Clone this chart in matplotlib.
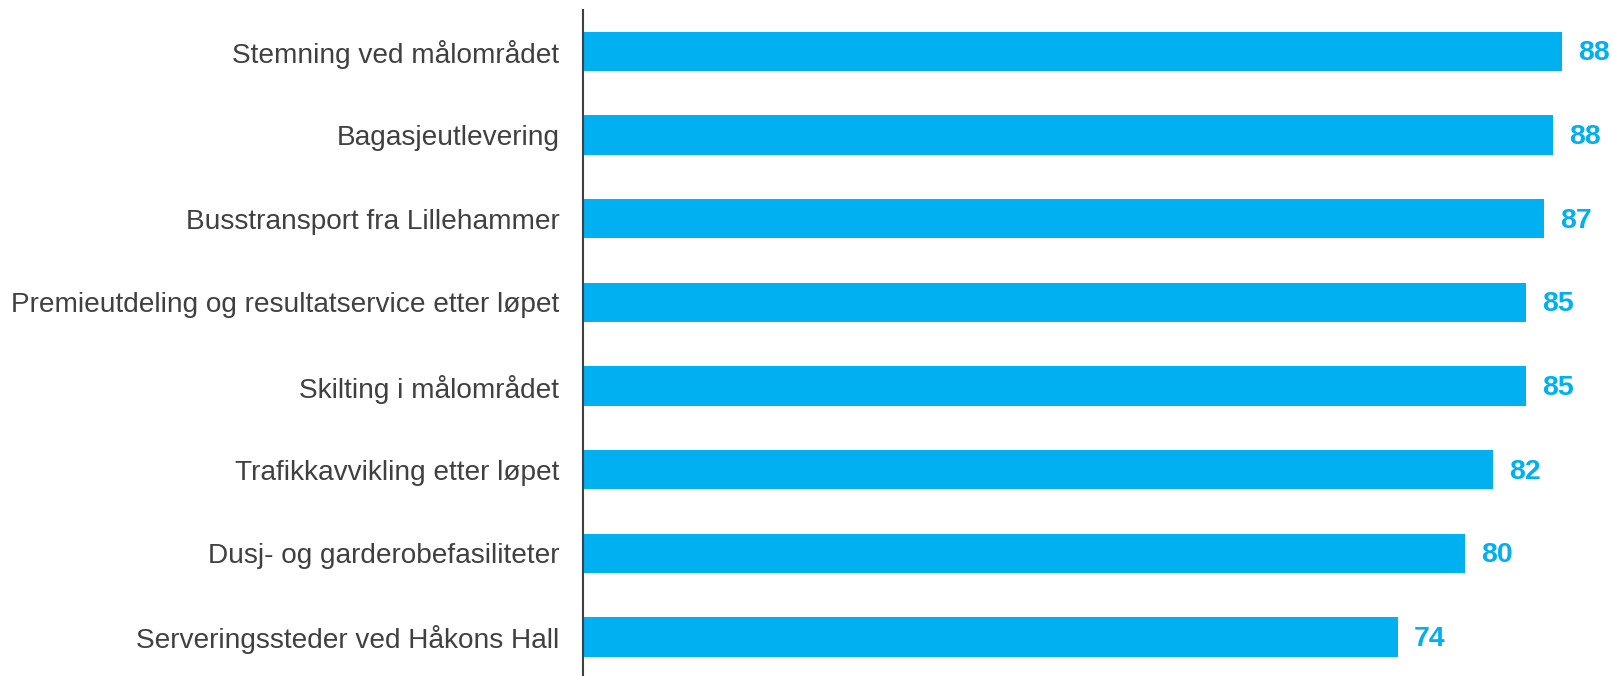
import matplotlib
matplotlib.use("Agg")
import matplotlib.pyplot as plt
from matplotlib.transforms import offset_copy

categories = [
    "Stemning ved målområdet",
    "Bagasjeutlevering",
    "Busstransport fra Lillehammer",
    "Premieutdeling og resultatservice etter løpet",
    "Skilting i målområdet",
    "Trafikkavvikling etter løpet",
    "Dusj- og garderobefasiliteter",
    "Serveringssteder ved Håkons Hall",
]
values = [88.4, 87.6, 86.8, 85.2, 85.2, 82.2, 79.7, 73.6]
labels = ["88", "88", "87", "85", "85", "82", "80", "74"]

plt.rcParams['font.family'] = ['Liberation Sans', 'DejaVu Sans']

W, H = 1612, 676
fig = plt.figure(figsize=(W / 100, H / 100), dpi=100)
ax = fig.add_axes([583 / W, 0.0, 1 - 583 / W, (H - 10) / H])

bar_color = "#00B0F0"
ypos = list(range(len(categories)))
ax.barh(ypos, values, height=0.47, color=bar_color)

ax.set_xlim(0, 92.95)
ax.set_ylim(7.467, -0.496)

ax.set_yticks(ypos)
ax.set_yticklabels(categories, fontsize=20.2, color="#404040")
ax.tick_params(axis='y', length=0, pad=17)
ax.set_xticks([])

for s in ["top", "right", "bottom"]:
    ax.spines[s].set_visible(False)
ax.spines["left"].set_color("#404040")
ax.spines["left"].set_linewidth(1.5)

trans = offset_copy(ax.transData, fig=fig, x=16, y=-2, units='dots')
for y, v, lab in zip(ypos, values, labels):
    ax.text(v, y, lab, transform=trans, ha='left', va='center',
            fontsize=20.5, fontweight='bold', color=bar_color)

fig.savefig("out.png", dpi=100)
